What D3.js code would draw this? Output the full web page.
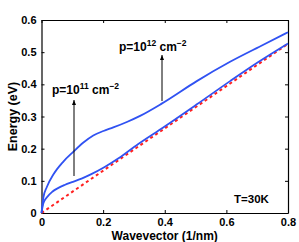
<!DOCTYPE html>
<html>
<head>
<meta charset="utf-8">
<script src="https://cdn.jsdelivr.net/npm/d3@7"></script>
<style>
  body { margin: 0; background: #fff; }
  text { font-family: "Liberation Sans", Arial, sans-serif; font-weight: bold; }
</style>
</head>
<body>
<div id="chart-area"></div>
<script>
// wavevector (1/nm) and energy (eV)
const kLow = [0, 0.006, 0.017, 0.035, 0.055, 0.075, 0.102, 0.13, 0.16, 0.205, 0.25, 0.313, 0.395, 0.503, 0.612, 0.7, 0.8];
const eLow = [0, 0.03, 0.048, 0.066, 0.078, 0.087, 0.097, 0.107, 0.12, 0.143, 0.17, 0.214, 0.266, 0.337, 0.41, 0.467, 0.527];
const kHigh = [0, 0.006, 0.017, 0.04, 0.071, 0.103, 0.136, 0.168, 0.201, 0.233, 0.277, 0.32, 0.39, 0.504, 0.612, 0.72, 0.8];
const eHigh = [0, 0.048, 0.08, 0.122, 0.16, 0.19, 0.219, 0.241, 0.255, 0.266, 0.283, 0.302, 0.34, 0.41, 0.47, 0.523, 0.562];
const kLin = [0, 0.8];
const eLin = [0, 0.526];
const xTicks = [0, 0.2, 0.4, 0.6, 0.8];
const yTicks = [0, 0.1, 0.2, 0.3, 0.4, 0.5, 0.6];

const margin = { left: 41.5, right: 11, top: 20, bottom: 29 };
const W = 299, H = 242;
const width = W - margin.left - margin.right;
const height = H - margin.top - margin.bottom;

const svg = d3.select("#chart-area")
  .append("svg")
    .attr("width", W)
    .attr("height", H);

const g = svg.append("g")
  .attr("transform", "translate(" + margin.left + "," + margin.top + ")");

const x = d3.scaleLinear().domain([0, 0.8]).range([0, width]);
const y = d3.scaleLinear().domain([0, 0.6]).range([height, 0]);

const fmt = d => d === 0 ? "0" : d3.format(".1f")(d);

// axes with inward ticks, mirrored on top/right
g.append("g")
  .attr("transform", "translate(0," + height + ")")
  .call(d3.axisBottom(x).tickValues(xTicks).tickFormat(fmt).tickSizeInner(-3).tickSizeOuter(0).tickPadding(5));
g.append("g")
  .call(d3.axisTop(x).tickValues(xTicks).tickFormat("").tickSizeInner(-3).tickSizeOuter(0));
g.append("g")
  .call(d3.axisLeft(y).tickValues(yTicks).tickFormat(fmt).tickSizeInner(-3).tickSizeOuter(0).tickPadding(5));
g.append("g")
  .attr("transform", "translate(" + width + ",0)")
  .call(d3.axisRight(y).tickValues(yTicks).tickFormat("").tickSizeInner(-3).tickSizeOuter(0));

g.selectAll(".domain").attr("stroke", "#000").attr("stroke-width", 1.2);
g.selectAll(".tick line").attr("stroke", "#000");
g.selectAll(".tick text").attr("font-size", "11px").attr("fill", "#000")
  .style("font-family", "Liberation Sans, Arial, sans-serif").style("font-weight", "bold");

const line = d3.line()
  .x(d => x(d[0]))
  .y(d => y(d[1]))
  .curve(d3.curveMonotoneX);

g.append("path")
  .datum(kLin.map((k, i) => [k, eLin[i]]))
  .attr("d", line)
  .attr("fill", "none")
  .attr("stroke", "#ff2020")
  .attr("stroke-width", 2)
  .attr("stroke-dasharray", "3,3");

[[kLow, eLow], [kHigh, eHigh]].forEach(([ks, es]) => {
  g.append("path")
    .datum(ks.map((k, i) => [k, es[i]]))
    .attr("d", line)
    .attr("fill", "none")
    .attr("stroke", "#3052f2")
    .attr("stroke-width", 1.8);
});

// arrows
const defs = svg.append("defs");
defs.append("marker")
  .attr("id", "head")
  .attr("viewBox", "0 0 10 10")
  .attr("refX", 10).attr("refY", 5)
  .attr("markerWidth", 5).attr("markerHeight", 6)
  .attr("orient", "auto")
  .append("path").attr("d", "M0,1 L10,5 L0,9 Z").attr("fill", "#000");

svg.append("line")
  .attr("x1", 74).attr("y1", 176).attr("x2", 74).attr("y2", 100)
  .attr("stroke", "#000").attr("stroke-width", 1)
  .attr("marker-end", "url(#head)");
svg.append("line")
  .attr("x1", 162).attr("y1", 101).attr("x2", 162).attr("y2", 55)
  .attr("stroke", "#000").attr("stroke-width", 1)
  .attr("marker-end", "url(#head)");

function pLabel(xp, yp, exp) {
  const t = svg.append("text")
    .attr("x", xp).attr("y", yp)
    .attr("font-size", "12px");
  t.append("tspan").text("p=10");
  t.append("tspan").attr("font-size", "8.5px").attr("dy", -5).text(exp);
  t.append("tspan").attr("dy", 5).text(" cm");
  t.append("tspan").attr("font-size", "8.5px").attr("dy", -5).text("\u22122");
}
pLabel(52, 94, "11");
pLabel(119, 51, "12");

svg.append("text")
  .attr("x", 234).attr("y", 203)
  .attr("font-size", "11.5px")
  .text("T=30K");

svg.append("text")
  .attr("x", margin.left + width / 2)
  .attr("y", 240)
  .attr("font-size", "12px")
  .attr("text-anchor", "middle")
  .text("Wavevector (1/nm)");

svg.append("text")
  .attr("x", -(margin.top + height / 2))
  .attr("y", 17)
  .attr("font-size", "12.5px")
  .attr("text-anchor", "middle")
  .attr("transform", "rotate(-90)")
  .text("Energy (eV)");
</script>
</body>
</html>
